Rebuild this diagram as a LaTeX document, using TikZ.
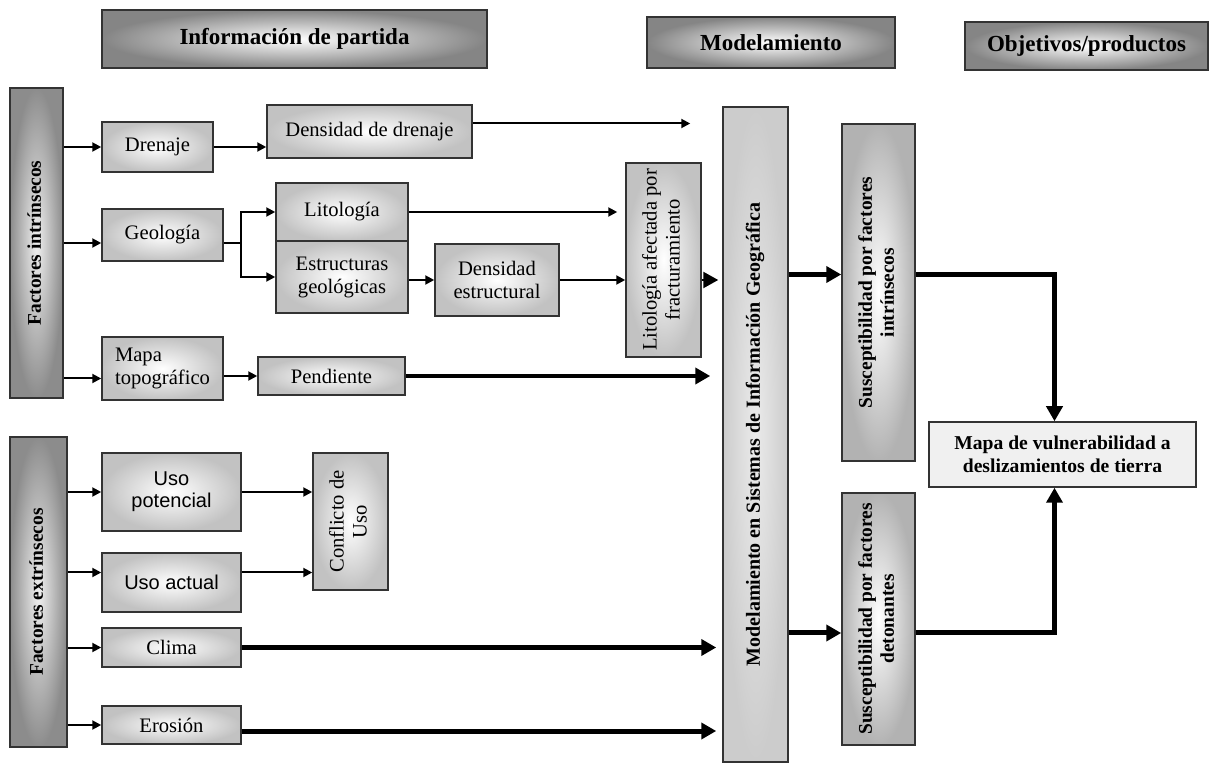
\documentclass[tikz,border=0pt]{standalone}
\usepackage{fontspec}
\setmainfont{Liberation Serif}
\newfontfamily\sansarial{Liberation Sans}
\usetikzlibrary{arrows.meta}
\newcommand{\vtxt}[1]{\rotatebox{90}{\begin{tabular}{@{}c@{}}#1\end{tabular}}}

\begin{document}
\begin{tikzpicture}[x=0.5pt,y=-0.5pt,
            borde/.style={draw=black!80,line width=0.75pt,align=center,inner sep=0pt,font=\fontsize{10.3}{11.5}\selectfont},
            caja/.style={borde,inner color=white,outer color=black!24},
            cabecera/.style={borde,inner color=white,outer color=black!48,font=\fontsize{11.5}{13}\selectfont\bfseries},
            barra/.style={borde,inner color=black!6,outer color=black!45,font=\fontsize{9.7}{11}\selectfont\bfseries},
            gis/.style={borde,inner color=black!8,outer color=black!20,font=\fontsize{10}{11}\selectfont\bfseries},
            susc/.style={borde,inner color=white,outer color=black!30,font=\fontsize{9.7}{11}\selectfont\bfseries},
            tam/.style 2 args={minimum width=#1,minimum height=#2},
            flecha/.style={line width=1pt,-{Triangle[length=4.5pt,width=4.5pt]}},
            gruesa/.style={line width=2.5pt,-{Triangle[length=7.5pt,width=8pt]}}]
            \useasboundingbox (0,0) rectangle (1211,764);
            \node[cabecera,tam={192.5pt}{29pt}] (infoPartida) at (294.5,39) {Información de partida};
            \node[cabecera,tam={124pt}{25.5pt}] (modelam) at (771,42.5) {Modelamiento};
            \node[cabecera,tam={121.5pt}{24pt}] (objetivos) at (1086.5,46) {Objetivos/productos};
            \node[barra,tam={26.5pt}{155pt}] (intrinsecos) at (36.5,243) {\vtxt{Factores intrínsecos}};
            \node[barra,tam={28.5pt}{155pt}] (extrinsecos) at (38.5,592) {\vtxt{Factores extrínsecos}};
            \node[caja,tam={55.5pt}{25pt}] (drenaje) at (157.5,147) {Drenaje};
            \node[caja,tam={102.5pt}{26.5pt}] (densDrenaje) at (369.5,131.5) {Densidad de drenaje};
            \node[caja,tam={60.5pt}{26pt}] (geologia) at (162.5,235) {Geología};
            \node[caja,tam={66pt}{29pt}] (litologia) at (342,212) {Litología};
            \node[caja,tam={66pt}{36pt}] (estructuras) at (342,277) {Estructuras\\geológicas};
            \node[caja,tam={62pt}{36pt}] (densEstruct) at (497,280) {Densidad\\estructural};
            \node[caja,tam={37.5pt}{97pt}] (litoAfectada) at (663.5,260) {\vtxt{Litología afectada por\\fracturamiento}};
            \node[caja,tam={60.5pt}{31.5pt},align=left] (mapaTopo) at (162.5,368.5) {Mapa\\topográfico};
            \node[caja,tam={73.5pt}{19pt}] (pendiente) at (331.5,376) {Pendiente};
            \node[gis,tam={32.5pt}{327.5pt}] (sig) at (755.5,434.5) {\vtxt{Modelamiento en Sistemas de Información Geográfica}};
            \node[susc,tam={36.5pt}{168.5pt}] (suscIntr) at (878.5,292.5) {\vtxt{Susceptibilidad por factores\\intrínsecos}};
            \node[susc,tam={36.5pt}{126pt}] (suscDet) at (878.5,619) {\vtxt{Susceptibilidad por factores\\detonantes}};
            \node[borde,fill=black!6,tam={133.5pt}{32.5pt},font=\fontsize{9.8}{11.5}\selectfont\bfseries] (mapaVuln) at (1062.5,454.5) {Mapa de vulnerabilidad a\\deslizamientos de tierra};
            \node[caja,tam={69.5pt}{39pt},font=\sansarial\fontsize{10}{11}\selectfont] (usoPot) at (171.5,492) {Uso\\potencial};
            \node[caja,tam={69.5pt}{29.5pt},font=\sansarial\fontsize{10}{11}\selectfont] (usoAct) at (171.5,582.5) {Uso actual};
            \node[caja,tam={37.5pt}{68.5pt}] (conflicto) at (350.5,521.5) {\vtxt{Conflicto de\\Uso}};
            \node[caja,tam={69.5pt}{19.5pt}] (clima) at (171.5,647.5) {Clima};
            \node[caja,tam={69.5pt}{19pt}] (erosion) at (171.5,725) {Erosión};
            \coordinate (geoIn) at ([yshift=-4pt]geologia.west);
            \coordinate (geoOut) at ([yshift=-4pt]geologia.east);
            \coordinate (bifurca) at (241,243);
            \coordinate (topoIn) at ([yshift=-5pt]mapaTopo.west);
            \coordinate (drenOut) at ([yshift=4pt]densDrenaje.east);
            \coordinate (actIn) at ([yshift=5pt]usoAct.west);
            \coordinate (actOut) at ([yshift=5pt]usoAct.east);
            \coordinate (erosOut) at ([yshift=-3pt]erosion.east);
            \coordinate (intrIn) at ([yshift=9pt]suscIntr.west);
            \coordinate (intrOut) at ([yshift=9pt]suscIntr.east);
            \coordinate (detIn) at ([yshift=-7pt]suscDet.west);
            \coordinate (detOut) at ([yshift=-7pt]suscDet.east);
            \draw[flecha] (intrinsecos.east |- drenaje) -- (drenaje);
            \draw[flecha] (intrinsecos.east |- geoIn) -- (geoIn);
            \draw[flecha] (intrinsecos.east |- topoIn) -- (topoIn);
            \draw[flecha] (drenaje) -- (drenaje -| densDrenaje.west);
            \draw[flecha,shorten >=16pt] (drenOut) -- (drenOut -| sig.west);
            \draw[line width=1pt] (geoOut) -- (bifurca);
            \draw[flecha] (bifurca) |- (litologia);
            \draw[flecha] (bifurca) |- (estructuras);
            \draw[flecha,shorten >=4pt] (litologia) -- (litologia -| litoAfectada.west);
            \draw[flecha] (estructuras.east |- densEstruct) -- (densEstruct);
            \draw[flecha] (densEstruct) -- (densEstruct -| litoAfectada.west);
            \draw[gruesa,line width=1.2pt,shorten >=2pt] (litoAfectada.east |- densEstruct) -- (sig.west |- densEstruct);
            \draw[flecha] (mapaTopo.east |- pendiente) -- (pendiente);
            \draw[gruesa,line width=2pt,shorten >=6pt] (pendiente) -- (pendiente -| sig.west);
            \draw[flecha] (extrinsecos.east |- usoPot) -- (usoPot);
            \draw[flecha] (extrinsecos.east |- actIn) -- (actIn);
            \draw[flecha] (extrinsecos.east |- clima) -- (clima);
            \draw[flecha] (extrinsecos.east |- erosion) -- (erosion);
            \draw[flecha] (usoPot) -- (usoPot -| conflicto.west);
            \draw[flecha] (actOut) -- (actOut -| conflicto.west);
            \draw[gruesa,shorten >=3pt] (clima) -- (clima -| sig.west);
            \draw[gruesa,shorten >=3pt] (erosOut) -- (erosOut -| sig.west);
            \draw[gruesa] (sig.east |- intrIn) -- (intrIn);
            \draw[gruesa] (sig.east |- detIn) -- (detIn);
            \draw[gruesa] (intrOut) -| ([xshift=-4pt]mapaVuln.north);
            \draw[gruesa] (detOut) -| ([xshift=-4pt]mapaVuln.south);
        \end{tikzpicture}
\end{document}
